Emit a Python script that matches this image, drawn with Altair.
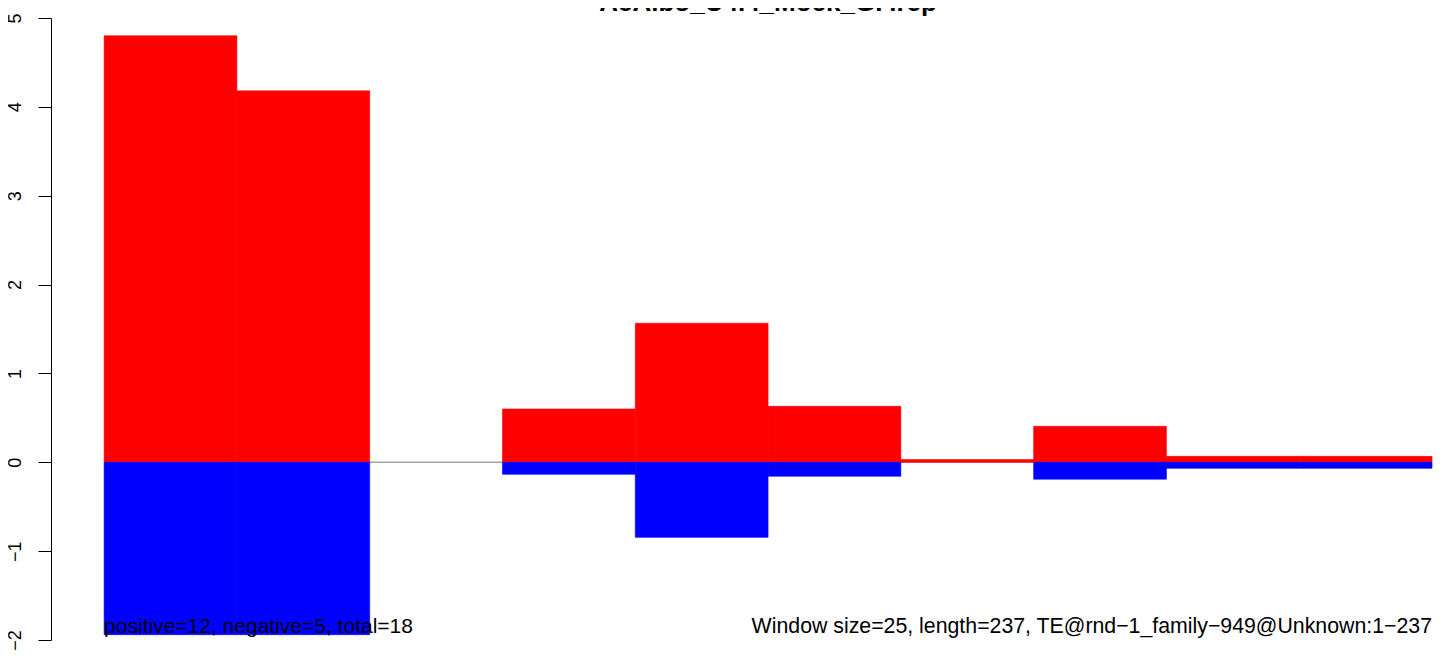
import altair as alt
import pandas as pd

# window start positions (bp), window size 25
win_start = [0, 25, 50, 75, 100, 125, 150, 175, 200, 225]
win_end = [25, 50, 75, 100, 125, 150, 175, 200, 225, 250]
pos_vals = [4.80, 4.18, 0.0, 0.60, 1.565, 0.63, 0.03, 0.405, 0.067, 0.067]
neg_vals = [-1.94, -1.94, 0.0, -0.135, -0.845, -0.157, 0.0, -0.19, -0.068, -0.068]
y_ticks = [-2, -1, 0, 1, 2, 3, 4, 5]

title_text = "AeAlbo_U4.4_Mock_GP.rep"
left_note = "positive=12, negative=5, total=18"
right_note = "Window size=25, length=237, TE@rnd\u22121_family\u2212949@Unknown:1\u2212237"

rows = []
for s, e, p, n in zip(win_start, win_end, pos_vals, neg_vals):
    if p != 0:
        rows.append({"start": s, "end": e, "y0": 0.0, "y1": p, "color": "pos"})
    if n != 0:
        rows.append({"start": s, "end": e, "y0": 0.0, "y1": n, "color": "neg"})
df = pd.DataFrame(rows)

xscale = alt.Scale(domain=[-10, 250.75], nice=False, zero=False)
yscale = alt.Scale(domain=[-2, 5], nice=False, zero=False)
cscale = alt.Scale(domain=["pos", "neg"], range=["#ff0000", "#0000ff"])

FONT = "Liberation Sans"

zero_line = alt.Chart(pd.DataFrame({"a": [0], "b": [250], "y": [0]})).mark_rule(
    color="#a6a6a6", strokeWidth=1.5
).encode(
    x=alt.X("a:Q", scale=xscale, axis=None),
    x2="b:Q",
    y=alt.Y("y:Q", scale=yscale),
)

bars = alt.Chart(df).mark_rect(strokeWidth=0.6).encode(
    x=alt.X("start:Q", scale=xscale, axis=None),
    x2="end:Q",
    y=alt.Y(
        "y0:Q",
        scale=yscale,
        axis=alt.Axis(
            values=y_ticks,
            format="d",
            title=None,
            grid=False,
            tickSize=13,
            tickColor="black",
            tickWidth=1,
            domainColor="black",
            domainWidth=1,
            labelAngle=270,
            labelAlign="center",
            labelBaseline="bottom",
            labelPadding=14,
            labelFontSize=18,
            labelFont=FONT,
            labelColor="black",
            labelFlush=False,
            labelOverlap=False,
        ),
    ),
    y2="y1:Q",
    color=alt.Color("color:N", scale=cscale, legend=None),
    stroke=alt.Stroke("color:N", scale=cscale, legend=None),
)

left_txt = alt.Chart(pd.DataFrame({"x": [0], "y": [-1.92], "t": [left_note]})).mark_text(
    align="left", baseline="alphabetic", fontSize=21, font=FONT, color="black"
).encode(x=alt.X("x:Q", scale=xscale), y=alt.Y("y:Q", scale=yscale), text="t:N")

right_txt = alt.Chart(pd.DataFrame({"x": [250], "y": [-1.92], "t": [right_note]})).mark_text(
    align="right", baseline="alphabetic", fontSize=21.3, font=FONT, color="black"
).encode(x=alt.X("x:Q", scale=xscale), y=alt.Y("y:Q", scale=yscale), text="t:N")

title_txt = alt.Chart(pd.DataFrame({"x": [125], "t": [title_text]})).mark_text(
    align="center", baseline="alphabetic", fontSize=26, font=FONT, fontWeight="bold", color="black"
).encode(x=alt.X("x:Q", scale=xscale), y=alt.value(-7), text="t:N")

chart = alt.layer(zero_line, bars, left_txt, right_txt, title_txt).properties(
    width=1385,
    height=622,
    autosize=alt.AutoSizeParams(type="none"),
    padding={"left": 43, "top": 10, "right": 0, "bottom": 16},
).configure(background="white").configure_view(stroke=None, strokeWidth=0)

chart.save("out.html", embed_options={"renderer": "svg", "actions": False})
